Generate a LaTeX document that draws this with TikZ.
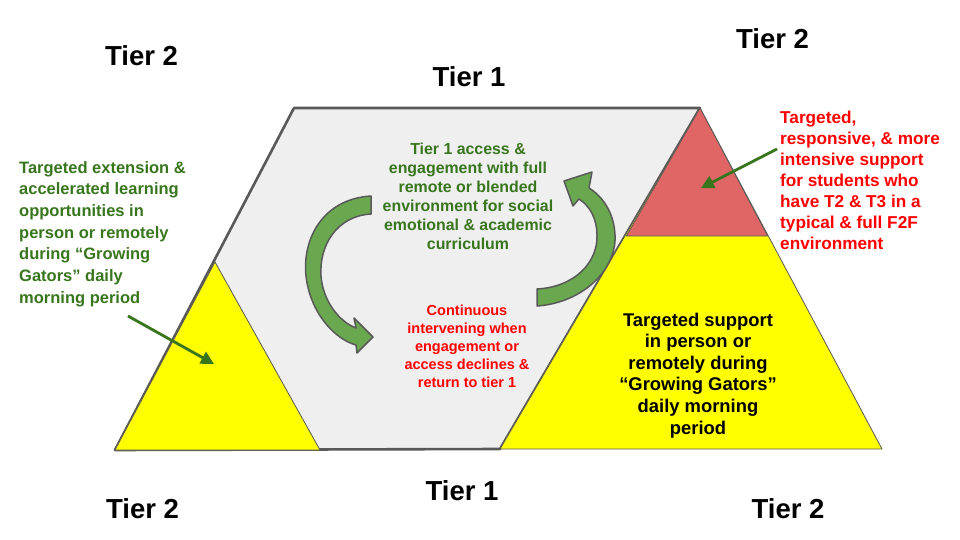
\documentclass[tikz,border=0pt]{standalone}
\usepackage{fontspec}
\setmainfont{Liberation Sans}
\usetikzlibrary{arrows.meta}
\definecolor{tgreen}{HTML}{38761D}
\definecolor{agreen}{HTML}{6AA84F}
\definecolor{tred}{HTML}{FF0000}
\definecolor{pinkred}{HTML}{E06666}
\definecolor{ygold}{HTML}{FFFF00}
\definecolor{panel}{HTML}{EFEFEF}
\definecolor{edge}{HTML}{595959}
\begin{document}
\begin{tikzpicture}[x=1pt,y=-1pt,
  tier/.style={font=\bfseries\fontsize{27.5}{30}\selectfont, anchor=base, inner sep=0},
  note/.style={inner sep=0},
  pointer/.style={draw=tgreen, line width=2.8pt, -{Triangle[length=13pt,width=13pt]}},
  bendarrow/.style={fill=agreen, draw=edge, line width=1.5pt, line join=round},
  thinedge/.style={draw=edge, line width=0.8pt, line join=round}]
\useasboundingbox[fill=white] (0,0) rectangle (960,540);

% panel
\draw[edge, line width=2.6pt, fill=panel, line join=round]
  (294,108) -- (700,108) -- (500,449) -- (115,450) -- cycle;
% left tier-2 triangle
\draw[thinedge, fill=ygold] (215,262) -- (320,450) -- (115,450) -- cycle;
% right pyramid
\draw[thinedge, fill=ygold] (700,108) -- (882,449) -- (500,449) -- cycle;
\draw[thinedge, fill=pinkred] (700,108) -- (767.6,236) -- (626.4,236) -- cycle;

% tier labels
\node[tier] (t2tl) at (141.5,66) {Tier 2};
\node[tier] (t1t) at (469,87) {Tier 1};
\node[tier] (t2tr) at (772.5,49) {Tier 2};
\node[tier] (t1b) at (462,500) {Tier 1};
\node[tier] (t2bl) at (142.5,518) {Tier 2};
\node[tier] (t2br) at (788,518) {Tier 2};

% texts (anchor base = baseline of the last line)
\node[note, text=tgreen, align=left, anchor=base west,
  font=\bfseries\fontsize{16.5}{21.7}\selectfont] (ext) at (19,303.2)
  {Targeted extension \&\\accelerated learning\\opportunities in\\person or remotely\\during “Growing\\Gators” daily\\morning period};
\node[note, text=tgreen, align=center, anchor=base,
  font=\bfseries\fontsize{15.9}{19}\selectfont] (access) at (468,249)
  {Tier 1 access \&\\engagement with full\\remote or blended\\environment for social\\emotional \& academic\\curriculum};
\node[note, text=tred, align=center, anchor=base,
  font=\bfseries\fontsize{14.5}{18}\selectfont] (interv) at (467,387)
  {Continuous\\intervening when\\engagement or\\access declines \&\\return to tier 1};
\node[note, text=tred, align=left, anchor=base west,
  font=\bfseries\fontsize{17.2}{21}\selectfont] (intens) at (780,249)
  {Targeted,\\responsive, \& more\\intensive support\\for students who\\have T2 \& T3 in a\\typical \& full F2F\\environment};
\node[note, text=black, align=center, anchor=base,
  font=\bfseries\fontsize{18.4}{21.6}\selectfont] (support) at (698,434)
  {Targeted support\\in person or\\remotely during\\“Growing Gators”\\daily morning\\period};

% pointer arrows
\coordinate (extTail) at (128,316);
\coordinate (extHead) at (214,364);
\draw[pointer] (extTail) -- (extHead);
\coordinate (redTail) at (777,149);
\coordinate (redHead) at (701,188);
\draw[pointer] (redTail) -- (redHead);

% curved block arrows
\draw[bendarrow] (371,196) .. controls (322,199) and (302,240) .. (306,276)
  .. controls (310,312) and (334,339) .. (356,345)
  -- (357,353) -- (373,337) -- (354,318) -- (356,328)
  .. controls (340,322) and (323,302) .. (321,276)
  .. controls (319,245) and (337,216) .. (371,214) -- cycle;
\draw[bendarrow] (537,306) .. controls (582,303) and (617,270) .. (615,235)
  .. controls (614,212) and (602,196) .. (589,188)
  -- (592,172) -- (564,181) -- (573,206) -- (579,199)
  .. controls (590,206) and (597,219) .. (597,235)
  .. controls (598,262) and (575,287) .. (537,289) -- cycle;
\end{tikzpicture}
\end{document}
